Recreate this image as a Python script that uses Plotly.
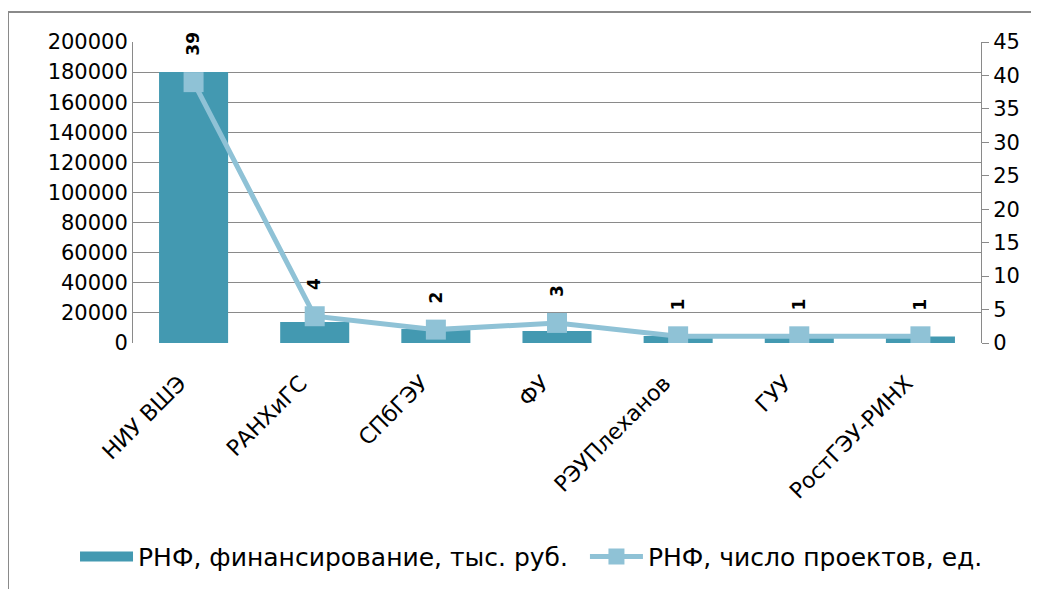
import plotly.graph_objects as go

categories = ["НИУ ВШЭ", "РАНХиГС", "СПбГЭУ", "ФУ", "РЭУПлеханов", "ГУУ", "РостГЭУ-РИНХ"]
funding = [180000, 13900, 9300, 7900, 4600, 4000, 4400]
projects = [39, 4, 2, 3, 1, 1, 1]
left_ticks = list(range(0, 200001, 20000))
right_ticks = list(range(0, 46, 5))

FONT = "DejaVu Sans"
BAR_COLOR = "#4399B1"
LINE_COLOR = "#8FC2D6"
GRID = "#8a8a8a"
BAR_NAME = "РНФ, финансирование, тыс. руб."
LINE_NAME = "РНФ, число проектов, ед."

fig = go.Figure()
fig.add_trace(go.Bar(
    x=categories, y=funding, name=BAR_NAME, showlegend=False,
    marker=dict(color=BAR_COLOR, line=dict(width=0)), yaxis="y",
))
# legend proxy for the bar series (wide rectangular swatch)
fig.add_trace(go.Scatter(
    x=[None], y=[None], name=BAR_NAME, mode="lines", legend="legend",
    line=dict(color=BAR_COLOR, width=18), yaxis="y",
))
fig.add_trace(go.Scatter(
    x=categories, y=projects, name=LINE_NAME, yaxis="y2", legend="legend2",
    mode="lines+markers",
    line=dict(color=LINE_COLOR, width=5),
    marker=dict(symbol="square", size=20, color=LINE_COLOR),
))

for c, v in zip(categories, projects):
    fig.add_annotation(x=c, y=v, xref="x", yref="y2", text="<b>%d</b>" % v, textangle=-90,
                       showarrow=False, yanchor="bottom", yshift=24,
                       font=dict(family=FONT, size=17, color="#000000"))

fig.add_shape(type="rect", xref="paper", yref="paper",
              x0=-0.1474, x1=1.08, y0=-0.85, y1=1.0997,
              line=dict(color="#8a8a8a", width=2), layer="below")

legend_common = dict(orientation="h", xref="container", yref="container",
                     xanchor="left", y=0.095, yanchor="top",
                     font=dict(family=FONT, size=25), itemwidth=53,
                     bgcolor="rgba(0,0,0,0)")

fig.update_layout(
    width=1031, height=581,
    margin=dict(l=125, r=58, t=34, b=246, autoexpand=False),
    paper_bgcolor="white", plot_bgcolor="white",
    font=dict(family=FONT, size=21, color="#000000"),
    bargap=0.43,
    showlegend=True,
    legend=dict(x=0.065, **legend_common),
    legend2=dict(x=0.5596, **legend_common),
    xaxis=dict(tickangle=-45, showgrid=False, showline=False, ticks="", automargin=False,
               tickfont=dict(family=FONT, size=22), ticklabelstandoff=22, ticklabelshift=-14),
    yaxis=dict(range=[0, 200000], tickvals=left_ticks, showgrid=True, gridcolor=GRID,
               gridwidth=1, showline=True, linecolor=GRID, linewidth=1, ticks="",
               zeroline=False, tickformat="d", ticklen=0, automargin=False),
    yaxis2=dict(range=[0, 45], tickvals=right_ticks, overlaying="y", side="right",
                showgrid=False, showline=True, linecolor=GRID, linewidth=1,
                ticks="outside", ticklen=7, tickcolor=GRID, zeroline=False, automargin=False),
)

fig.write_html("out.html")
